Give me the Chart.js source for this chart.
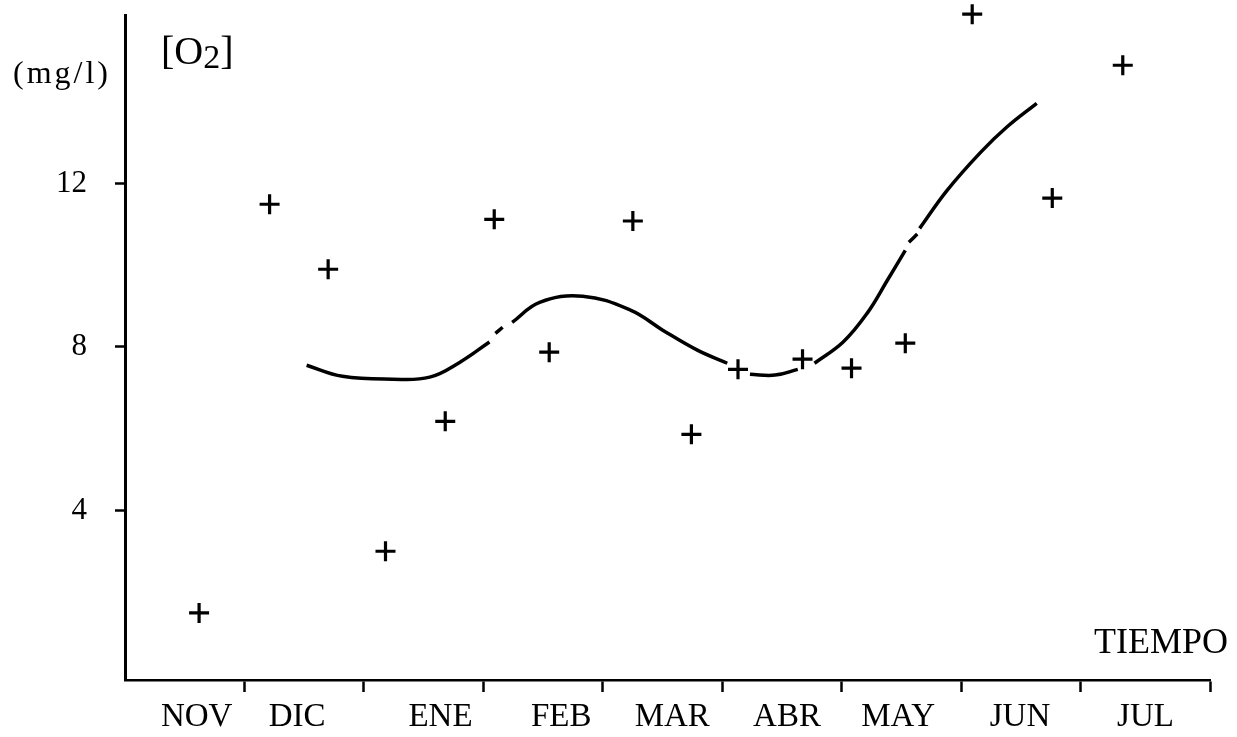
<!DOCTYPE html>
<html>
<head>
<meta charset="utf-8">
<script src="https://cdn.jsdelivr.net/npm/chart.js@4"></script>
<style>
  html, body { margin: 0; padding: 0; background: #ffffff; }
  #wrap { width: 1237px; height: 737px; position: relative; }
</style>
</head>
<body>
<div id="wrap"><canvas id="c" width="1237" height="737"></canvas></div>
<script>
// ---- data (x in months since start of NOV, y in mg/l) ----
const months = ['NOV', 'DIC', 'ENE', 'FEB', 'MAR', 'ABR', 'MAY', 'JUN', 'JUL'];
const monthLabelPos = [0.60, 1.44, 2.64, 3.65, 4.58, 5.54, 6.47, 7.49, 8.54];
const monthBoundaries = [1, 2, 3, 4, 5, 6, 7, 8, 9.08];
const yTickValues = [4, 8, 12];

const obsX = [0.62, 1.21, 1.70, 2.18, 2.68, 3.09, 3.55, 4.25, 4.74, 5.13, 5.67, 6.08, 6.53, 7.09, 7.76, 8.35];
const obsY = [1.49, 11.49, 9.90, 3.00, 6.18, 11.12, 7.87, 11.08, 5.86, 7.45, 7.70, 7.48, 8.09, 16.14, 11.64, 14.89];

// smooth trend curve (null = pen gap)
const curveX = [1.52, 1.82, 2.24, 2.55, 2.80, 3.05, 3.07, 3.10, 3.16, 3.19, 3.24, 3.47, 3.83, 4.23, 4.50, 4.79, 5.04, 5.13,
                5.23, 5.44, 5.63, 5.70, 5.77, 6.01, 6.21, 6.38, 6.53, 6.545, 6.56, 6.63, 6.64, 6.65, 6.88, 7.16, 7.38, 7.63];
const curveY = [7.55, 7.28, 7.21, 7.26, 7.62, 8.12, null, 8.33, 8.48, null, 8.60, 9.09, 9.24, 8.90, 8.41, 7.92, 7.60, null,
                7.33, 7.31, 7.45, null, 7.60, 8.12, 8.82, 9.63, 10.36, null, 10.56, 10.76, null, 10.90, 11.83, 12.76, 13.38, 13.96];

const Y_MIN = -0.15, Y_MAX = 16.12, X_MIN = 0, X_MAX = 9.08;

const serif = "'Liberation Serif', 'DejaVu Serif', serif";

const textPlugin = {
  id: 'extraText',
  afterDraw(chart) {
    const ctx = chart.ctx;
    const a = chart.chartArea;
    ctx.save();
    ctx.fillStyle = '#000';
    // y-axis unit
    ctx.font = '32px ' + serif;
    ctx.textAlign = 'left';
    ctx.textBaseline = 'alphabetic';
    ctx.letterSpacing = '3px';
    ctx.fillText('(mg/l)', a.left - 112, 83);
    ctx.letterSpacing = '0px';
    // [O2]
    let x = a.left + 36;
    const base = 64;
    ctx.font = '40px ' + serif;
    ctx.fillText('[O', x, base);
    x += ctx.measureText('[O').width;
    ctx.font = '34px ' + serif;
    ctx.fillText('2', x, base + 4);
    x += ctx.measureText('2').width;
    ctx.font = '40px ' + serif;
    ctx.fillText(']', x, base);
    // axis title
    ctx.font = '36px ' + serif;
    ctx.textAlign = 'right';
    ctx.fillText('TIEMPO', a.right + 18, 653);
    ctx.restore();
  }
};

new Chart(document.getElementById('c'), {
  type: 'line',
  data: {
    datasets: [
      {
        label: 'tendencia',
        data: curveX.map((v, i) => ({ x: v, y: curveY[i] })),
        borderColor: '#000',
        borderWidth: 3.5,
        pointRadius: 0,
        tension: 0.4,
        spanGaps: false,
        fill: false
      },
      {
        label: 'O2',
        data: obsX.map((v, i) => ({ x: v, y: obsY[i] })),
        showLine: false,
        pointStyle: 'cross',
        pointRadius: 10,
        pointBorderWidth: 3.2,
        pointBorderColor: '#000',
        pointBackgroundColor: '#000',
        clip: false
      }
    ]
  },
  options: {
    responsive: false,
    devicePixelRatio: 1,
    animation: false,
    events: [],
    layout: { padding: { left: 0, top: 15, right: 27, bottom: 0 } },
    plugins: { legend: { display: false }, tooltip: { enabled: false }, title: { display: false } },
    scales: {
      x: {
        type: 'linear',
        position: 'bottom',
        min: X_MIN,
        max: X_MAX,
        border: { display: true, color: '#000', width: 2.5 },
        grid: {
          display: true,
          drawOnChartArea: false,
          drawTicks: true,
          tickLength: 12,
          tickWidth: 2.5,
          tickColor: (ctx) => (ctx.tick && monthBoundaries.includes(ctx.tick.value)) ? '#000' : 'rgba(0,0,0,0)'
        },
        ticks: {
          autoSkip: false,
          maxRotation: 0,
          minRotation: 0,
          padding: 6,
          color: '#000',
          font: { family: serif, size: 33 },
          callback: (v) => {
            const i = monthLabelPos.indexOf(v);
            return i >= 0 ? months[i] : '';
          }
        },
        afterBuildTicks: (s) => {
          s.ticks = monthBoundaries.concat(monthLabelPos).sort((p, q) => p - q).map(v => ({ value: v }));
        },
        afterFit: (s) => { s.height = 57; s.paddingLeft = 0; s.paddingRight = 0; }
      },
      y: {
        type: 'linear',
        position: 'left',
        min: Y_MIN,
        max: Y_MAX,
        border: { display: true, color: '#000', width: 3 },
        grid: {
          display: true,
          drawOnChartArea: false,
          drawTicks: true,
          tickLength: 10,
          tickWidth: 2.5,
          tickColor: '#000'
        },
        ticks: {
          padding: 28,
          color: '#000',
          font: { family: serif, size: 31 }
        },
        afterBuildTicks: (s) => { s.ticks = yTickValues.map(v => ({ value: v })); },
        afterFit: (s) => { s.width = 125; s.paddingTop = 0; s.paddingBottom = 0; }
      }
    }
  },
  plugins: [textPlugin]
});
</script>
</body>
</html>
